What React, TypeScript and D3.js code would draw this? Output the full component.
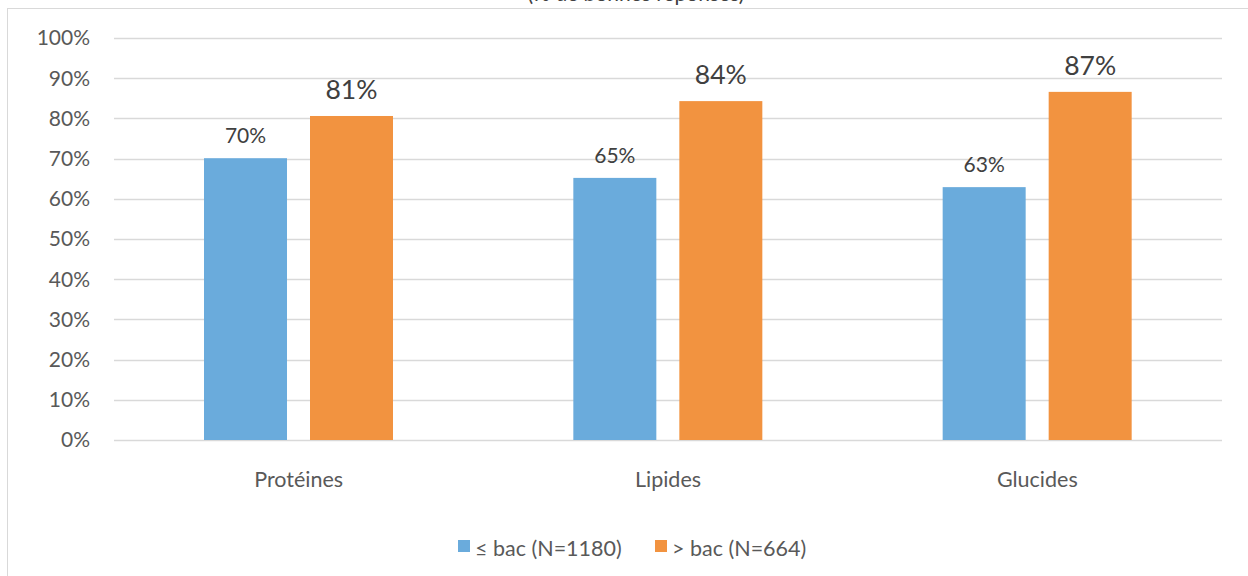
import * as d3 from "d3";

const categories = ["Protéines", "Lipides", "Glucides"];
const seriesNames = ["≤ bac (N=1180)", "> bac (N=664)"];
const lowEdu = [0.701, 0.652, 0.629];
const highEdu = [0.806, 0.843, 0.866];
const yTicks = [0, 0.1, 0.2, 0.3, 0.4, 0.5, 0.6, 0.7, 0.8, 0.9, 1];
const titleText = "(% de bonnes réponses)";

const colors = ["#6aabdc", "#f29340"];
const font = "Lato, 'Open Sans', sans-serif";

export default function App() {
  const width = 1248;
  const height = 576;
  const left = 114;
  const right = 1222;
  const top = 38;
  const bottom = 440;

  const x = d3.scaleBand<string>().domain(categories).range([left, right]);
  const inner = d3
    .scaleBand<number>()
    .domain([0, 1])
    .range([90, 279])
    .paddingInner(0.217);
  const y = d3.scaleLinear().domain([0, 1]).range([bottom, top]);
  const pct = d3.format(".0%");

  const series = [lowEdu, highEdu];

  return (
    <svg
      width={width}
      height={height}
      style={{ position: "absolute", left: 0, top: 0, background: "#fff" }}
      fontFamily={font}
    >
      <rect x={7.5} y={8.5} width={1260} height={600} fill="#fff" stroke="#d9d9d9" />
      <text x={636} y={1} textAnchor="middle" fontSize={21} fill="#404040">
        {titleText}
      </text>

      {yTicks.map((t) => (
        <g key={t}>
          <line x1={left} x2={right} y1={Math.round(y(t)) + 0.5} y2={Math.round(y(t)) + 0.5} stroke="#d9d9d9" strokeWidth={1.3} />
          <text x={90} y={y(t)} dy="0.35em" textAnchor="end" fontSize={21} fill="#595959">
            {pct(t)}
          </text>
        </g>
      ))}

      {categories.map((c, i) => (
        <g key={c} transform={`translate(${x(c)},0)`}>
          {series.map((vals, s) => {
            const bx = inner(s)!;
            const bw = inner.bandwidth();
            const v = vals[i];
            return (
              <g key={s}>
                <rect x={bx} y={y(v)} width={bw} height={y(0) - y(v)} fill={colors[s]} />
                <text
                  x={bx + bw / 2}
                  y={y(v) - (s === 0 ? 15 : 17)}
                  textAnchor="middle"
                  fontSize={s === 0 ? 21 : 26.5}
                  fill="#404040"
                >
                  {pct(v)}
                </text>
              </g>
            );
          })}
          <text x={x.bandwidth() / 2} y={487} textAnchor="middle" fontSize={21.5} fill="#595959">
            {c}
          </text>
        </g>
      ))}

      {seriesNames.map((n, s) => {
        const lx = s === 0 ? 458 : 655;
        return (
          <g key={n}>
            <rect x={lx} y={540} width={12} height={12} fill={colors[s]} />
            <text x={lx + 17} y={556} fontSize={21.5} fill="#595959">
              {n}
            </text>
          </g>
        );
      })}
    </svg>
  );
}
